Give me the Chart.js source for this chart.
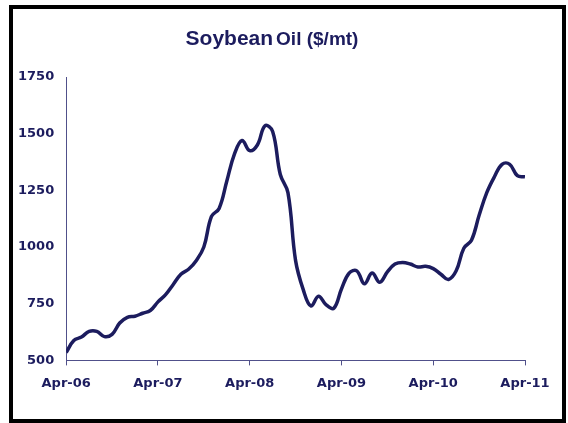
<!DOCTYPE html>
<html>
<head>
<meta charset="utf-8">
<title>Soybean Oil ($/mt)</title>
<script src="https://cdn.jsdelivr.net/npm/chart.js@4"></script>
<style>
  html, body { margin: 0; padding: 0; background: #fff; }
  #wrap { position: relative; width: 568px; height: 423px; overflow: hidden; }
  #frame {
    position: absolute; left: 9px; top: 5px; width: 557px; height: 418px;
    box-sizing: border-box; border: 4px solid #000; pointer-events: none;
  }
  #grafico { position: absolute; left: 0; top: 0; }
</style>
</head>
<body>
<div id="wrap">
  <canvas id="grafico" width="568" height="423"></canvas>
  <div id="frame"></div>
</div>
<script>
// monthly prices, Apr-06 .. Apr-11 (index 0 = Apr-06)
const yearLabels = ['Apr-06', 'Apr-07', 'Apr-08', 'Apr-09', 'Apr-10', 'Apr-11'];
const prices = [
  535, 588, 603, 628, 628, 605, 615, 665, 690, 695, 708, 720,
  758, 790, 835, 880, 902, 940, 1000, 1135, 1170, 1290, 1410, 1470,
  1425, 1450, 1535, 1510, 1320, 1240, 940, 812, 740, 783, 745, 730,
  815, 885, 895, 838, 885, 845, 890, 925, 932, 925, 912, 915,
  905, 880, 857, 895, 995, 1030, 1140, 1240, 1310, 1365, 1365, 1315,
  1310
];
const yTicks = [500, 750, 1000, 1250, 1500, 1750];

const navy = '#1c1c5e';
const axisColor = '#50508a';
const tickFont = { family: 'DejaVu Sans', size: 13, weight: 'bold' };

// two-size title like the original
const tituloPlugin = {
  id: 'titulo',
  afterDraw(chart) {
    const ctx = chart.ctx;
    ctx.save();
    ctx.fillStyle = navy;
    ctx.textBaseline = 'alphabetic';
    ctx.font = 'bold 21px "Liberation Sans"';
    const w1 = ctx.measureText('Soybean').width;
    ctx.font = 'bold 19px "Liberation Sans"';
    const gap = 3;
    const w2 = ctx.measureText('Oil ($/mt)').width;
    let x = 272 - (w1 + gap + w2) / 2;
    const y = 45;
    ctx.font = 'bold 21px "Liberation Sans"';
    ctx.fillText('Soybean', x, y);
    ctx.font = 'bold 19px "Liberation Sans"';
    ctx.fillText('Oil ($/mt)', x + w1 + gap, y);
    ctx.restore();
  }
};

const ctx = document.getElementById('grafico').getContext('2d');
const chart = new Chart(ctx, {
  type: 'line',
  data: {
    datasets: [{
      label: 'Soybean Oil',
      data: prices.map((v, i) => ({ x: i, y: v })),
      borderColor: navy,
      borderWidth: 3.5,
      pointRadius: 0,
      fill: false,
      tension: 0.4
    }]
  },
  options: {
    responsive: false,
    animation: false,
    layout: { padding: { left: 6, right: 43, top: 77, bottom: 22 } },
    plugins: {
      legend: { display: false },
      tooltip: { enabled: false }
    },
    scales: {
      x: {
        type: 'linear',
        min: 0,
        max: 60,
        afterBuildTicks: (axis) => {
          axis.ticks = yearLabels.map((_, i) => ({ value: i * 12 }));
        },
        afterFit: (axis) => {
          axis.paddingLeft = 0;
          axis.paddingRight = 0;
        },
        ticks: {
          autoSkip: false,
          maxRotation: 0,
          padding: 10,
          color: navy,
          font: tickFont,
          callback: (v) => yearLabels[v / 12]
        },
        grid: { drawOnChartArea: false, tickLength: 5, color: axisColor, lineWidth: 1 },
        border: { display: true, color: axisColor, width: 1 }
      },
      y: {
        min: 500,
        max: 1750,
        afterBuildTicks: (axis) => {
          axis.ticks = yTicks.map(v => ({ value: v }));
        },
        ticks: { padding: 12, color: navy, font: tickFont, callback: (v) => String(v) },
        grid: { display: false, drawTicks: false },
        border: { display: true, color: axisColor, width: 1 }
      }
    }
  },
  plugins: [tituloPlugin]
});
</script>
</body>
</html>
